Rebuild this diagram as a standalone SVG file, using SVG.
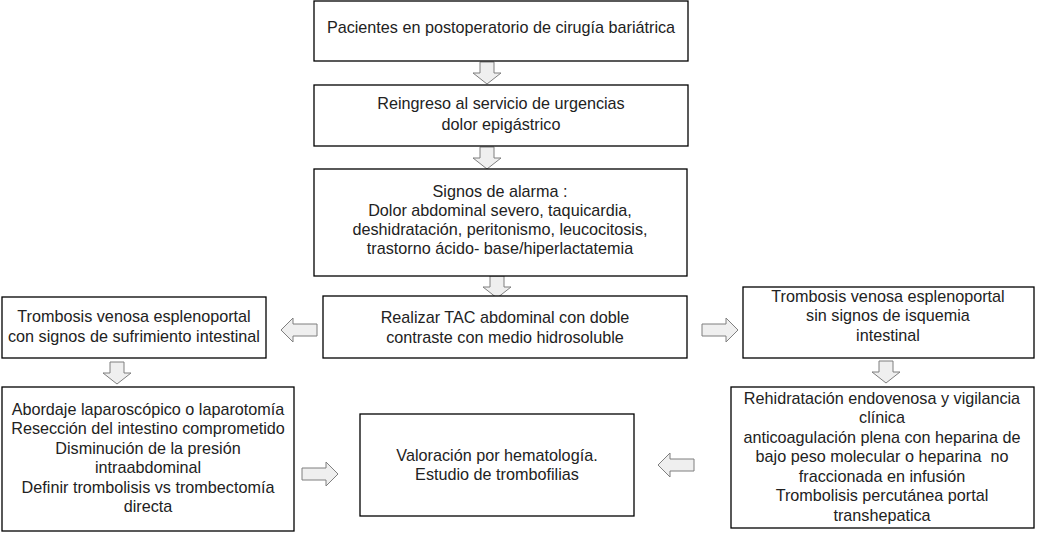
<svg xmlns="http://www.w3.org/2000/svg" xmlns:xlink="http://www.w3.org/1999/xlink" width="1039" height="533" viewBox="0 0 1039 533">
<style>
.box{fill:#fff;stroke:#000;stroke-width:1.3}
.t{font-family:"Liberation Sans",Arial,sans-serif;font-size:16.2px;fill:#222;text-anchor:middle}
.arr{fill:#efefef;stroke:#7f7f7f;stroke-width:1}
</style>
<defs>
<path id="down" d="M-7,0 H7 V11 H14 L0,22 L-14,11 H-7 Z"/>
<path id="left" d="M0,0 L12,-12 V-6 H36 V6 H12 V12 Z"/>
</defs>
<rect width="1039" height="533" fill="#fff"/>
<g id="connectors" class="arr">
<use xlink:href="#down" transform="translate(487,62)"/>
<use xlink:href="#down" transform="translate(487,147)"/>
<use xlink:href="#down" transform="translate(497,276)"/>
<use xlink:href="#left" transform="translate(281,330)"/>
<use xlink:href="#left" transform="translate(738,330) scale(-1,1)"/>
<use xlink:href="#down" transform="translate(117,362)"/>
<use xlink:href="#down" transform="translate(886,361)"/>
<use xlink:href="#left" transform="translate(338,474) scale(-1,1)"/>
<use xlink:href="#left" transform="translate(658,465)"/>
</g>
<g id="n1"><rect class="box" x="314" y="1" width="374" height="60"/>
<text class="t" x="501" y="33">Pacientes en postoperatorio de cirugía bariátrica</text></g>
<g id="n2"><rect class="box" x="314" y="85" width="374" height="61"/>
<text class="t" x="501" y="109">Reingreso al servicio de urgencias</text>
<text class="t" x="501" y="130">dolor epigástrico</text></g>
<g id="n3"><rect class="box" x="314" y="169" width="373" height="107"/>
<text class="t" x="500" y="197">Signos de alarma :</text>
<text class="t" x="500" y="216">Dolor abdominal severo, taquicardia,</text>
<text class="t" x="500" y="235">deshidratación, peritonismo, leucocitosis,</text>
<text class="t" x="500" y="254">trastorno ácido- base/hiperlactatemia</text></g>
<g id="n4"><rect class="box" x="323" y="296" width="364" height="62"/>
<text class="t" x="505" y="323">Realizar TAC abdominal con doble</text>
<text class="t" x="505" y="343">contraste con medio hidrosoluble</text></g>
<g id="n5"><rect class="box" x="2" y="297" width="264" height="61"/>
<text class="t" x="134" y="322">Trombosis venosa esplenoportal</text>
<text class="t" x="134" y="342">con signos de sufrimiento intestinal</text></g>
<g id="n6"><rect class="box" x="743" y="287" width="291" height="71"/>
<text class="t" x="888" y="302">Trombosis venosa esplenoportal</text>
<text class="t" x="888" y="321">sin signos de isquemia</text>
<text class="t" x="888" y="341">intestinal</text></g>
<g id="n7"><rect class="box" x="2" y="387" width="292" height="144"/>
<text class="t" x="148" y="415">Abordaje laparoscópico o laparotomía</text>
<text class="t" x="148" y="434">Resección del intestino comprometido</text>
<text class="t" x="148" y="454">Disminución de la presión</text>
<text class="t" x="148" y="473">intraabdominal</text>
<text class="t" x="148" y="493">Definir trombolisis vs trombectomía</text>
<text class="t" x="148" y="512">directa</text></g>
<g id="n8"><rect class="box" x="360" y="414" width="274" height="102"/>
<text class="t" x="497" y="461">Valoración por hematología.</text>
<text class="t" x="497" y="480">Estudio de trombofilias</text></g>
<g id="n9"><rect class="box" x="731" y="387" width="303" height="141"/>
<text class="t" x="882" y="404">Rehidratación endovenosa y vigilancia</text>
<text class="t" x="882" y="423">clínica</text>
<text class="t" x="882" y="443">anticoagulación plena con heparina de</text>
<text class="t" x="882" y="462" xml:space="preserve">bajo peso molecular o heparina  no</text>
<text class="t" x="882" y="482">fraccionada en infusión</text>
<text class="t" x="882" y="501">Trombolisis percutánea portal</text>
<text class="t" x="882" y="521">transhepatica</text></g>
</svg>
